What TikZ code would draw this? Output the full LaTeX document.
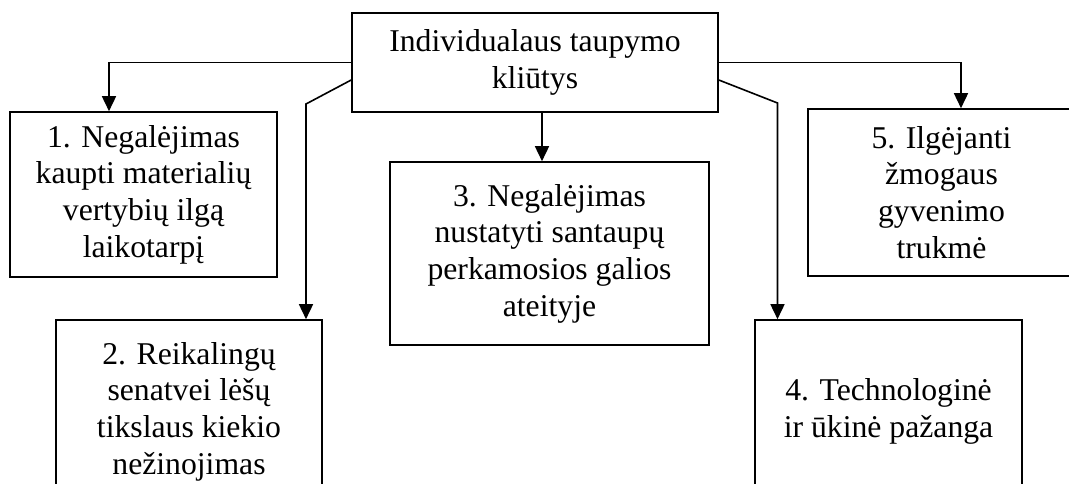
\documentclass[tikz,border=0pt]{standalone}
\usepackage{fontspec}
\setmainfont{Liberation Serif}
\usetikzlibrary{arrows.meta}

\begin{document}
\begin{tikzpicture}[x=1pt,y=-1pt,line width=1.6pt,>={Triangle[length=15pt,width=14pt]}]
        \tikzstyle{box}=[draw=black,rectangle,align=center,inner sep=0pt,font=\fontsize{31.7}{36.7}\selectfont]
        \tikzstyle{edge}=[draw,->]
        \useasboundingbox (0,0) rectangle (1069,484);
        \clip (0,0) rectangle (1069,484);

        \node [box,minimum width=366pt,minimum height=99pt] (top) at (535,62.5) {Individualaus taupymo\\kliūtys};
        \node [box,minimum width=267pt,minimum height=165pt] (b1) at (143.5,194.5) {1. Negalėjimas\\kaupti materialių\\vertybių ilgą\\laikotarpį};
        \node [box,minimum width=266pt,minimum height=183pt] (b2) at (189,411.5) {2. Reikalingų\\senatvei lėšų\\tikslaus kiekio\\nežinojimas};
        \node [box,minimum width=319pt,minimum height=183pt] (b3) at (549.5,253.5) {3. Negalėjimas\\nustatyti santaupų\\perkamosios galios\\ateityje};
        \node [box,minimum width=267pt,minimum height=183pt] (b4) at (888.5,411.5) {4. Technologinė\\ir ūkinė pažanga};
        \node [box,minimum width=267pt,minimum height=167pt] (b5) at (941.5,192.5) {5. Ilgėjanti\\žmogaus\\gyvenimo\\trukmė};

        \coordinate (k2) at (306,104);
        \coordinate (k3) at (542,137);
        \coordinate (k4) at (777.5,103);
        \coordinate (k5) at (961,87);

        \path[edge] (top.west) -| ([xshift=-34.5pt]b1.north);
        \path[edge] ([yshift=-17.5pt]top.west) -- (k2) -- (b2.north -| k2);
        \path[edge] (top.south -| k3) -- (b3.north -| k3);
        \path[edge] ([yshift=-17.5pt]top.east) -- (k4) -- (b4.north -| k4);
        \path[edge] (top.east) -| (b5.north -| k5);
\end{tikzpicture}
\end{document}
